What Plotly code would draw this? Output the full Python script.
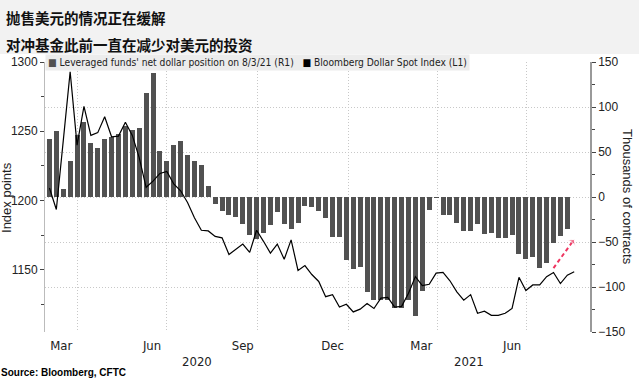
import plotly.graph_objects as go
import pandas as pd

title_main = "抛售美元的情况正在缓解"
title_sub = "对冲基金此前一直在减少对美元的投资"
source_text = "Source: Bloomberg, CFTC"
legend_bar = "Leveraged funds' net dollar position on 8/3/21 (R1)"
legend_line = "Bloomberg Dollar Spot Index (L1)"

week_start = "2020-03-04"

# Leveraged funds' net dollar position, thousands of contracts (right axis)
positions = [64, 73, 9, 40, 68.5, 83, 60, 55, 64, 67,
             70, 78.5, 75, 77, 116, 138, 51, 40, 58, 62,
             47, 40, 35.5, 12, -8, -15.5, -20, -22.5, -30.5, -42,
             -47, -40, -31.5, -17, -29.5, -35, -29, -9.5, -11.5, -16,
             -23, -44, -44, -70.5, -79.5, -78, -105, -114, -114, -114.5,
             -123.5, -123, -114, -132, -104, -14, -0.5, -19.5, -20, -29,
             -37.5, -37.5, -30, -41, -40, -45.5, -45, -42, -63, -68.5,
             -66.5, -79, -73.5, -51, -43.5, -36]

# Bloomberg Dollar Spot Index, index points (left axis)
dollar_index = [1209, 1193.5, 1243, 1293, 1240, 1268, 1247, 1249, 1260.5, 1246,
                1246.5, 1256.5, 1247, 1231, 1209.5, 1214, 1219.5, 1221, 1212, 1207,
                1198.5, 1187.5, 1178.5, 1178, 1174, 1173, 1161, 1164.5, 1168.5, 1162.5,
                1178.5, 1170.5, 1162, 1168.5, 1157.5, 1171.5, 1149.5, 1153, 1146.5, 1141.5,
                1130.5, 1132, 1123, 1125, 1119.5, 1121.5, 1125.5, 1122, 1129.5, 1130,
                1123, 1123.5, 1133, 1145, 1138.5, 1139.5, 1147.5, 1148, 1142, 1134,
                1128, 1132, 1118.5, 1120, 1117, 1117, 1118.5, 1122, 1144.5, 1135,
                1139, 1139, 1145, 1148, 1140, 1146, 1148.5]

month_ticks = ["2020-03-16", "2020-06-16", "2020-09-16", "2020-12-16", "2021-03-16", "2021-06-16"]
month_labels = ["Mar", "Jun", "Sep", "Dec", "Mar", "Jun"]
grid_dates = ["2020-04-01", "2020-07-01", "2020-10-01", "2021-01-01", "2021-04-01", "2021-07-01"]
year_labels = ["2020", "2021"]
year_starts = ["2021-01-01"]
x_range = ["2020-02-28 12:00", "2021-09-03"]

left_ticks = [1150, 1200, 1250, 1300]
left_range = [1105, 1300]
right_ticks = [-150, -100, -50, 0, 50, 100, 150]
right_range = [-150, 150]

arrow_x = ["2021-07-28", "2021-08-18"]
arrow_y = [-79, -47]

pos_dates = pd.date_range(week_start, periods=len(positions), freq="7D")
idx_dates = pd.date_range(week_start, periods=len(dollar_index), freq="7D")

DAY_MS = 86400000
tick_font = dict(family="Liberation Sans, Arial, sans-serif", size=12, color="#222")
narrow = "Liberation Sans Narrow, DejaVu Sans Condensed, sans-serif"
grid_col = "#c8c8c8"

fig = go.Figure()
fig.add_trace(go.Bar(x=pos_dates, y=positions, yaxis="y", marker=dict(color="#515151", line=dict(width=0)),
                     width=5.1 * DAY_MS, name=legend_bar, showlegend=False))
fig.add_trace(go.Scatter(x=arrow_x, y=arrow_y, yaxis="y", mode="lines+markers",
                         line=dict(color="#ee3560", width=2, dash="4px,3px"),
                         marker=dict(symbol=["circle", "arrow-wide"], size=[0, 9], color="#ee3560",
                                     angleref="previous"),
                         showlegend=False, hoverinfo="skip"))
fig.add_trace(go.Scatter(x=idx_dates, y=dollar_index, yaxis="y2", mode="lines",
                         line=dict(color="#000", width=1.2), name=legend_line, showlegend=False))

ann = []
ann.append(dict(text=title_main, xref="paper", yref="paper", x=-0.0752, y=1.163, xanchor="left", yanchor="middle",
                showarrow=False, font=dict(family="Noto Sans CJK SC", size=14.5, color="#111", weight="bold")))
ann.append(dict(text=title_sub, xref="paper", yref="paper", x=-0.0752, y=1.063, xanchor="left", yanchor="middle",
                showarrow=False, font=dict(family="Noto Sans CJK SC", size=14.5, color="#111", weight="bold")))
ann.append(dict(text=source_text, xref="paper", yref="paper", x=-0.0826, y=-0.174, xanchor="left", yanchor="bottom",
                showarrow=False, borderpad=0,
                font=dict(family="Liberation Sans, Arial, sans-serif", size=10, color="#000", weight="bold")))
ann.append(dict(text="<span style='color:#515151'>■</span> " + legend_bar +
                "   <span style='color:#000'>■</span> " + legend_line,
                xref="paper", yref="paper", x=0, y=1.0296, xanchor="left", yanchor="top",
                showarrow=False, bgcolor="#ececec", borderpad=2,
                font=dict(family=narrow, size=10.2, color="#222")))
ann.append(dict(text="Index points", xref="paper", yref="paper", x=-0.0716, y=0.5, textangle=-90,
                xanchor="center", yanchor="middle", showarrow=False,
                font=dict(family="Liberation Sans, Arial, sans-serif", size=13, color="#222")))
ann.append(dict(text="Thousands of contracts", xref="paper", yref="paper", x=1.0697, y=0.5, textangle=90,
                xanchor="center", yanchor="middle", showarrow=False,
                font=dict(family="Liberation Sans, Arial, sans-serif", size=13, color="#222")))

# year labels centred on the visible part of each year
bounds = [pd.Timestamp(x_range[0])] + [pd.Timestamp(d) for d in year_starts] + [pd.Timestamp(x_range[1])]
for i, lab in enumerate(year_labels):
    mid = bounds[i] + (bounds[i + 1] - bounds[i]) / 2
    ann.append(dict(text=lab, xref="x", yref="paper", x=mid, y=-0.111, xanchor="center", yanchor="middle",
                    showarrow=False, font=dict(family=narrow, size=13, color="#222")))

fig.update_layout(
    width=639, height=379,
    margin=dict(l=45, r=49, t=62, b=47, autoexpand=False),
    paper_bgcolor="white", plot_bgcolor="white",
    showlegend=False,
    bargap=0,
    annotations=ann,
    shapes=[dict(type="rect", xref="paper", yref="paper", x0=-0.09, x1=1.1, y0=1.0296, y1=1.24,
                 fillcolor="#f2f2f2", line=dict(width=0), layer="below")],
    xaxis=dict(type="date", range=x_range, tickmode="array", tickvals=month_ticks, ticktext=month_labels,
               showgrid=False, ticks="", zeroline=False, showline=False, automargin=False,
               tickfont=dict(family=narrow, size=13, color="#222"), ticklabelstandoff=4,
               minor=dict(tickmode="array", tickvals=grid_dates, showgrid=True, gridcolor=grid_col,
                          griddash="1px,2px", gridwidth=1, ticks="")),
    yaxis=dict(side="right", range=right_range, tickmode="array", tickvals=right_ticks, automargin=False,
               showgrid=True, gridcolor=grid_col, griddash="1px,2px", gridwidth=1, zeroline=False,
               ticks="outside", ticklen=4, tickcolor="#444", showline=True, linecolor="#999", linewidth=1.5,
               tickfont=tick_font,
               minor=dict(dtick=25, tick0=0, ticks="outside", ticklen=3, tickcolor="#444", showgrid=False)),
    yaxis2=dict(overlaying="y", side="left", range=left_range, tickmode="array", tickvals=left_ticks,
                showgrid=False, zeroline=False, ticks="outside", ticklen=4, tickcolor="#444", automargin=False,
                showline=True, linecolor="#bbb", linewidth=1, tickfont=tick_font,
                minor=dict(dtick=25, tick0=1100, ticks="outside", ticklen=3, tickcolor="#444", showgrid=False)),
)

fig.write_html("out.html", config={"displayModeBar": False},
               post_script="document.body.style.margin='0';document.body.style.overflow='hidden';")
